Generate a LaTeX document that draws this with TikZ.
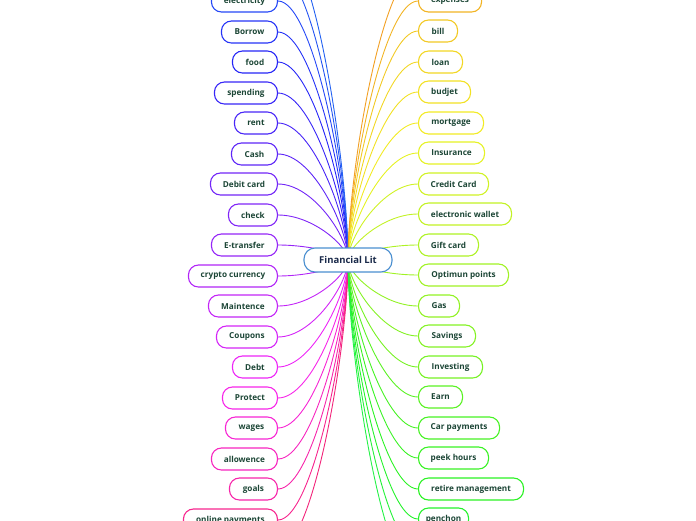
\PassOptionsToPackage{rgb}{xcolor}
\documentclass[tikz,border=0pt]{standalone}
\usepackage{fontspec}
\setmainfont{Open Sans}
\usetikzlibrary{backgrounds}
\definecolor{txt}{HTML}{1C4636}
\definecolor{ctxt}{HTML}{1A2A4A}
\definecolor{cborder}{HTML}{4A8FD0}
\newcommand{\mkcc}[3]{\convertcolorspec{Hsb}{#1,#2,#3}{rgb}\myspec\definecolor{cc}{rgb}{\myspec}}
\begin{document}
\begin{tikzpicture}[x=1pt,y=-1pt,
  leaf/.style={draw=#1, line width=1.1pt, fill=white, rounded corners=10pt,
    minimum height=22pt, inner xsep=0pt, inner ysep=0pt,
    font=\bfseries\fontsize{8.2}{9}\selectfont, text=txt},
  link/.style={draw=#1, line width=0.9pt},
  rootbox/.style={draw=cborder, line width=1.1pt, fill=white, rounded corners=11pt,
    minimum width=88pt, minimum height=24pt, inner sep=0pt,
    font=\bfseries\fontsize{9.5}{11}\selectfont, text=ctxt}]
\useasboundingbox (0,0) rectangle (696,520);
\clip (0,0) rectangle (696,520);
\node[rootbox] (c) at (348,260) {Financial Lit};
% left side
\foreach \i/\y/\t/\w/\h in {
  1/1/electricity/66/230, 2/32/Borrow/56/236, 3/62/food/45/240,
  4/93/spending/63/245, 5/123/rent/43/250, 6/154/Cash/46/256,
  7/184/Debit card/67/262, 8/215/check/49/266, 9/245/E-transfer/66/272,
  10/276/crypto currency/89/280, 11/306/Maintence/69/285, 12/337/Coupons/61/290,
  13/367/Debt/45/297, 14/398/Protect/55/304, 15/428/wages/52/310,
  16/459/allowence/66/316, 17/489/goals/48/322, 18/520/online payments/94/330}{
  \mkcc{\h}{0.85}{0.97}
  \node[leaf=cc, minimum width=\w pt, anchor=east] (L\i) at (278,\y) {\t};
  \begin{scope}[on background layer]
    \pgfmathsetmacro\d{0.3*(\y-260)}
    \draw[link=cc] (c.center) .. controls +(0,\d) and +(35,0) .. (L\i.east);
  \end{scope}
}
% right side
\foreach \i/\y/\t/\w/\h in {
  1/1/expenses/63/42, 2/31/bill/39/48, 3/62/loan/44/52,
  4/92/budjet/52/55, 5/123/mortgage/65/58, 6/153/Insurance/66/64,
  7/184/Credit Card/70/70, 8/214/electronic wallet/93/74, 9/245/Gift card/60/80,
  10/275/Optimun points/90/84, 11/306/Gas/41/88, 12/336/Savings/57/92,
  13/367/Investing/64/96, 14/397/Earn/44/104, 15/428/Car payments/81/110,
  16/458/peek hours/70/114, 17/489/retire management/105/118, 18/519/penchon/50/122}{
  \mkcc{\h}{0.85}{0.95}
  \node[leaf=cc, minimum width=\w pt, anchor=west] (R\i) at (418,\y) {\t};
  \begin{scope}[on background layer]
    \pgfmathsetmacro\d{0.3*(\y-260)}
    \draw[link=cc] (c.center) .. controls +(0,\d) and +(-35,0) .. (R\i.west);
  \end{scope}
}
% branches whose boxes lie outside the frame
\foreach \n/\x/\y/\h/\dx in {LA/278/-30/226/35, LB/278/-60/222/35, LC/278/550/335/35,
  RA/418/-30/36/-35, RB/418/549/126/-35, RC/418/579/130/-35}{
  \mkcc{\h}{0.85}{0.95}
  \coordinate (\n) at (\x,\y);
  \begin{scope}[on background layer]
    \pgfmathsetmacro\d{0.3*(\y-260)}
    \draw[link=cc] (c.center) .. controls +(0,\d) and +(\dx,0) .. (\n);
  \end{scope}
}
\end{tikzpicture}
\end{document}
